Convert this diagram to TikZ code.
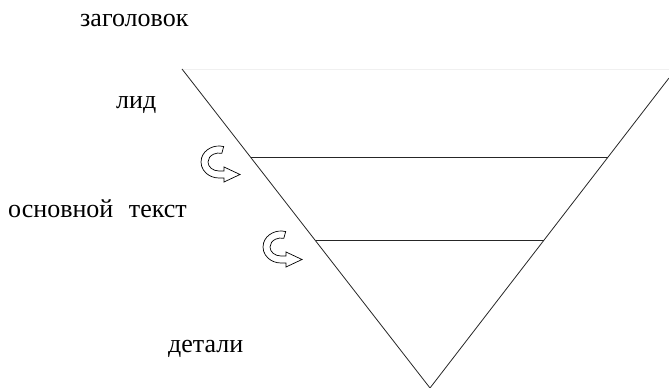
\documentclass[tikz,border=0pt]{standalone}
\usepackage{fontspec}
\newfontfamily\rusfont{Liberation Serif}[Script=Cyrillic,UprightFont=*,BoldFont=*]
\begin{document}
\begin{tikzpicture}[x=1pt,y=1pt,
  edge/.style={line width=0.8pt, black!85},
  faint/.style={line width=0.8pt, black!6},
  lbl/.style={anchor=base west, inner sep=0pt, font=\rusfont\fontsize{26}{30}\selectfont},
  curlarrow/.pic={
    \draw[line width=0.7pt, fill=white]
      (75:18 and 16) arc[start angle=75, end angle=270, x radius=18, y radius=16]
      -- (5,-16) -- (5,-20) -- (21,-12.5) -- (5,-5) -- (5,-9) -- (0,-9)
      arc[start angle=270, end angle=75, x radius=11, y radius=9] -- cycle;
  }]
\useasboundingbox (0,0) rectangle (669,388);
% triangle
\coordinate (tl) at (182,319);
\coordinate (tr) at (669,310);
\coordinate (apex) at (430,0);
\coordinate (l1) at (250.7,231);
\coordinate (r1) at (607.6,231);
\coordinate (l2) at (315.5,148);
\coordinate (r2) at (544,148);
\draw[faint] (tl) -- (669,319);
\draw[edge] (tl) -- (apex) -- (tr);
\draw[edge] (l1) -- (r1);
\draw[edge] (l2) -- (r2);
% labels
\node[lbl] (zag) at (80,361) {заголовок};
\node[lbl] (lid) at (116,279) {лид};
\node[lbl] (osn) at (8,170) {основной\hspace{0.6em}текст};
\node[lbl] (det) at (168,35) {детали};
% curved arrows
\pic at (219,226) {curlarrow};
\pic at (281,141) {curlarrow};
\end{tikzpicture}
\end{document}
